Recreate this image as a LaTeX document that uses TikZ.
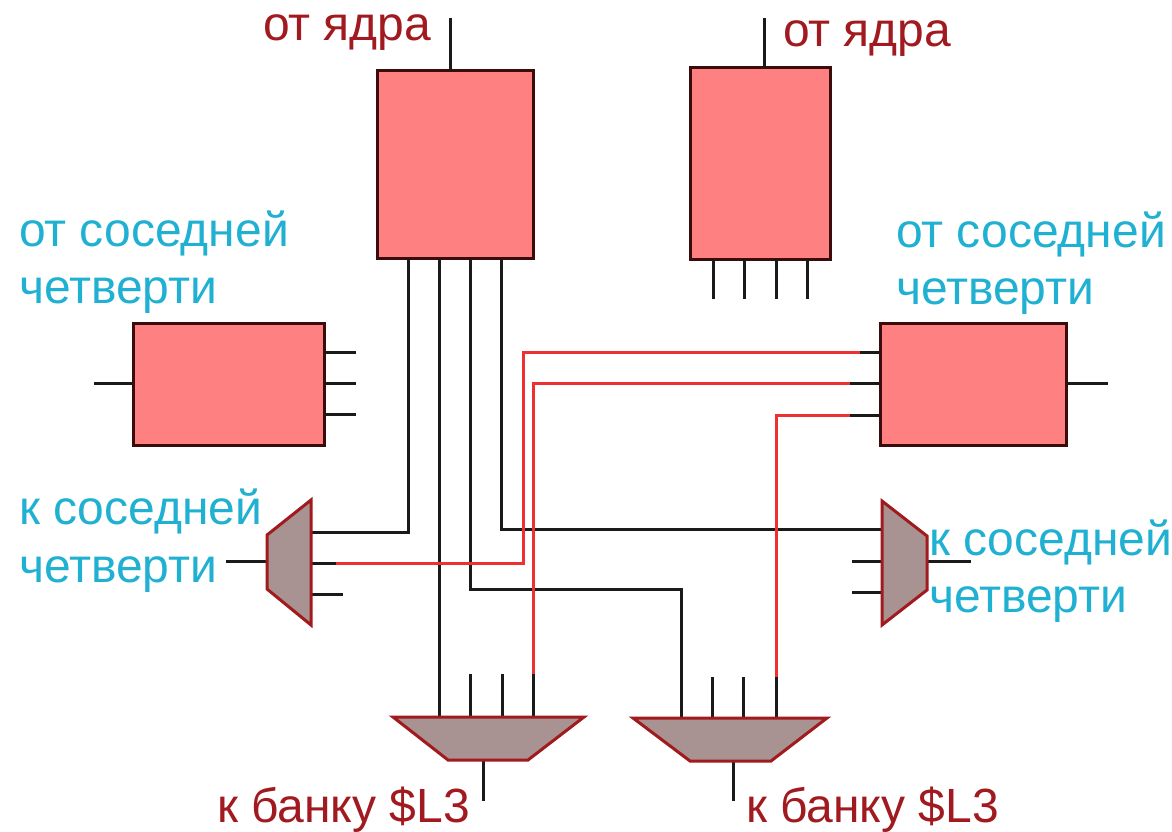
\documentclass[tikz,border=0pt]{standalone}
\usepackage{fontspec}
\setmainfont{Liberation Sans}
\definecolor{boxfill}{HTML}{FF8080}
\definecolor{boxline}{HTML}{3A0C0C}
\definecolor{muxfill}{HTML}{A89292}
\definecolor{muxline}{HTML}{A01A1E}
\definecolor{redwire}{HTML}{EE3030}
\definecolor{wire}{HTML}{1A1A1A}
\definecolor{bluetxt}{HTML}{1FB0D2}
\definecolor{redtxt}{HTML}{A01A20}
\tikzset{
  x=1pt,y=-1pt,
  bwire/.style={draw=wire,line width=3pt},
  rwire/.style={draw=redwire,line width=3pt},
  mux/.style={draw=muxline,fill=muxfill,line width=3pt,line join=miter},
  lbl/.style={inner sep=0pt,outer sep=0pt,anchor=base west,font=\fontsize{48}{48}\selectfont},
  blbl/.style={lbl,text=bluetxt},
  rlbl/.style={lbl,text=redtxt},
  rbox/.style={draw=boxline,fill=boxfill,line width=3pt,inner sep=0pt,outer sep=0pt,minimum width=#1,anchor=north west},
  rbox/.default=100pt
}
\newcommand{\boxat}[5]{\node[rbox=#4pt,minimum height=#5pt] (#1) at (#2,#3) {};}
\begin{document}
\begin{tikzpicture}
\useasboundingbox (0,0) rectangle (1172,832);
\coordinate (ta) at (450,18); \coordinate (tb) at (764,18);
\coordinate (cl) at (94,383); \coordinate (dr) at (1108,383);
\boxat{A}{377}{71}{156}{187}
\boxat{B}{690}{68}{140}{191}
\boxat{C}{133}{323}{191}{122}
\boxat{D}{880}{323}{186}{122}
\foreach \n/\x in {a1/408,a2/439,a3/470,a4/501}{\coordinate (\n) at (\x,258);}
\foreach \n/\x in {b1/713,b2/744,b3/776,b4/807}{\coordinate (\n) at (\x,259);\coordinate (\n e) at (\x,299);}
\foreach \n/\y in {c1/352,c2/383,c3/414}{\coordinate (\n) at (324,\y);\coordinate (\n e) at (356,\y);}
\coordinate (d1) at (880,352); \coordinate (d1m) at (860,352);
\coordinate (d2) at (880,383); \coordinate (d2m) at (850,383);
\coordinate (d3) at (880,415); \coordinate (d3m) at (850,415);
\coordinate (lm1) at (311,532); \coordinate (lm2) at (311,563); \coordinate (lm3) at (311,594);
\coordinate (lm2m) at (336,563); \coordinate (lm3e) at (343,594);
\coordinate (lmi) at (267,561); \coordinate (lmo) at (226,561);
\coordinate (rm1) at (882,529); \coordinate (rm2) at (882,561); \coordinate (rm3) at (882,592);
\coordinate (rm2e) at (852,561); \coordinate (rm3e) at (852,592);
\coordinate (rmi) at (927,561); \coordinate (rmo) at (971,561);
\foreach \n/\x in {p1/439,p2/470,p3/502,p4/533}{\coordinate (\n) at (\x,717);\coordinate (\n e) at (\x,674);}
\coordinate (po) at (483,760); \coordinate (poe) at (483,801);
\foreach \n/\x in {q1/681,q2/712,q3/743,q4/776}{\coordinate (\n) at (\x,718);\coordinate (\n e) at (\x,677);}
\coordinate (qo) at (733,761); \coordinate (qoe) at (733,801);
\draw[bwire] (ta) -- (ta |- A.north);
\draw[bwire] (tb) -- (tb |- B.north);
\draw[bwire] (cl) -- (C.west |- cl);
\draw[bwire] (D.east |- dr) -- (dr);
\foreach \n in {b1,b2,b3,b4}{\draw[bwire] (\n) -- (\n e);}
\foreach \n in {c1,c2,c3}{\draw[bwire] (\n) -- (\n e);}
\draw[bwire] (a1) |- (lm1);
\draw[bwire] (a2) -- (p1);
\draw[bwire] (a3) |- (681,589) -- (q1);
\draw[bwire] (a4) |- (rm1);
\foreach \n in {p2,p3,p4}{\draw[bwire] (\n) -- (\n e);}
\foreach \n in {q2,q3,q4}{\draw[bwire] (\n) -- (\n e);}
\draw[bwire] (po) -- (poe);
\draw[bwire] (qo) -- (qoe);
\draw[bwire] (lm2) -- (lm2m);
\draw[bwire] (lm3) -- (lm3e);
\draw[bwire] (lmi) -- (lmo);
\draw[bwire] (rm2) -- (rm2e);
\draw[bwire] (rm3) -- (rm3e);
\draw[bwire] (rmi) -- (rmo);
\draw[bwire] (d1) -- (d1m);
\draw[bwire] (d2) -- (d2m);
\draw[bwire] (d3) -- (d3m);
\draw[rwire] (d1m) -| (523,563) -- (lm2m);
\draw[rwire] (d2m) -| (p4e);
\draw[rwire] (d3m) -| (q4e);
\draw[mux] (311,500) -- (311,625) -- (267,589) -- (267,535) -- cycle;
\draw[mux] (882,501) -- (882,625) -- (927,590) -- (927,536) -- cycle;
\draw[mux] (393,717) -- (584,717) -- (528,760) -- (448,760) -- cycle;
\draw[mux] (633,718) -- (827,718) -- (771,761) -- (690,761) -- cycle;
\node[rlbl] (t1) at (263,41) {от ядра};
\node[rlbl] (t2) at (783,47) {от ядра};
\node[blbl] (t3) at (19,246) {от соседней};
\node[blbl] (t4) at (19,303) {четверти};
\node[blbl] (t5) at (896,247) {от соседней};
\node[blbl] (t6) at (896,304) {четверти};
\node[blbl] (t7) at (19,524) {к соседней};
\node[blbl] (t8) at (19,582) {четверти};
\node[blbl] (t9) at (929,555) {к соседней};
\node[blbl] (t10) at (929,612) {четверти};
\node[rlbl] (t11) at (217,822) {к банку \$L3};
\node[rlbl] (t12) at (746,822) {к банку \$L3};
\end{tikzpicture}
\end{document}
